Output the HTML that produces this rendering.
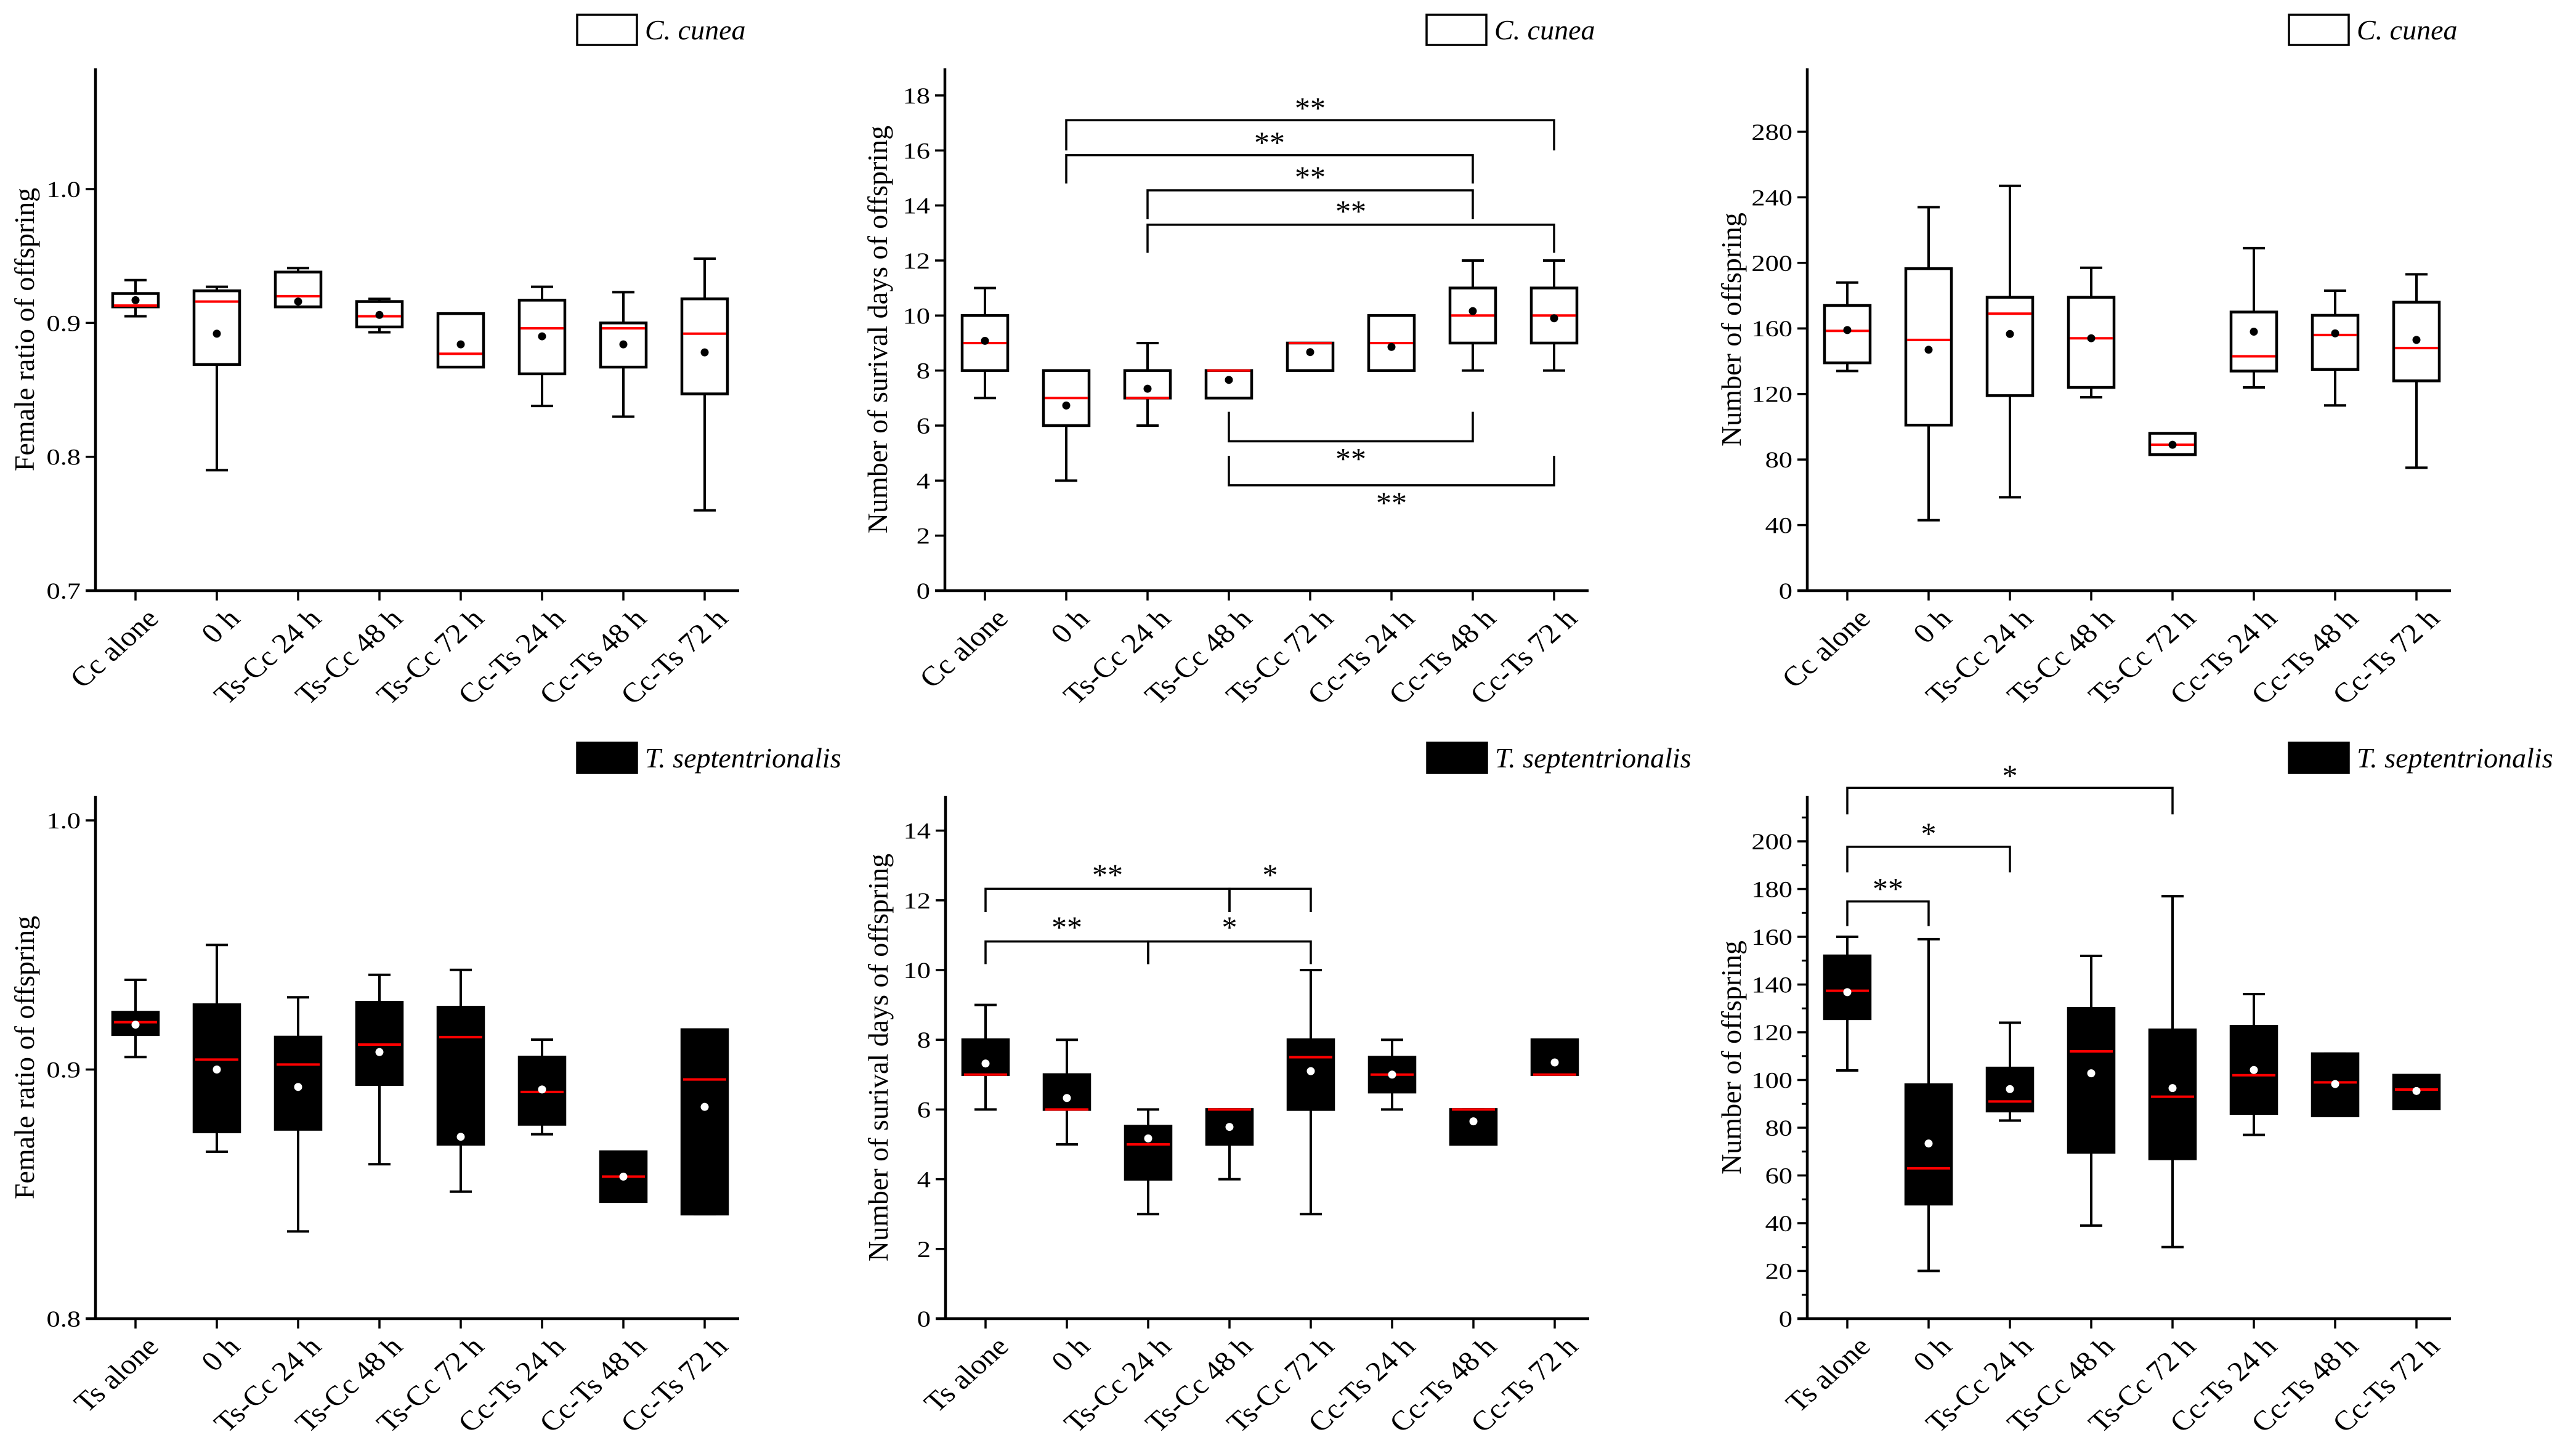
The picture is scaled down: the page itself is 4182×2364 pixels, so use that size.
<!DOCTYPE html>
<html><head><meta charset="utf-8"><title>Box plots</title>
<style>html,body{margin:0;padding:0;background:#fff}svg{display:block}text{font-family:"Liberation Serif","Times New Roman",serif;fill:#000}</style>
</head><body>
<svg id="fig" width="4182" height="2364" viewBox="0 0 4182 2364" xmlns="http://www.w3.org/2000/svg"></svg>
<script>
// ---------- data ----------
const catsTop = ["Cc alone","0 h","Ts-Cc 24 h","Ts-Cc 48 h","Ts-Cc 72 h","Cc-Ts 24 h","Cc-Ts 48 h","Cc-Ts 72 h"];
const catsBot = ["Ts alone","0 h","Ts-Cc 24 h","Ts-Cc 48 h","Ts-Cc 72 h","Cc-Ts 24 h","Cc-Ts 48 h","Cc-Ts 72 h"];

// Panel A: C. cunea female ratio
const aWhiskHi = [0.932,0.927,0.941,0.918,0.907,0.927,0.923,0.948];
const aQ3      = [0.922,0.924,0.938,0.916,0.907,0.917,0.900,0.918];
const aMedian  = [0.913,0.916,0.920,0.905,0.877,0.896,0.896,0.892];
const aQ1      = [0.912,0.869,0.912,0.897,0.867,0.862,0.867,0.847];
const aWhiskLo = [0.905,0.790,0.912,0.893,0.867,0.838,0.830,0.760];
const aMean    = [0.917,0.892,0.916,0.906,0.884,0.890,0.884,0.878];
const aTicks   = [0.7,0.8,0.9,1.0];
const aTickLabels = ["0.7","0.8","0.9","1.0"];

// Panel B: C. cunea survival days
const bWhiskHi = [11,8,9,8,9,10,12,12];
const bQ3      = [10,8,8,8,9,10,11,11];
const bMedian  = [9,7,7,8,9,9,10,10];
const bQ1      = [8,6,7,7,8,8,9,9];
const bWhiskLo = [7,4,6,7,8,8,8,8];
const bMean    = [9.08,6.73,7.34,7.66,8.67,8.86,10.16,9.9];
const bTicks   = [0,2,4,6,8,10,12,14,16,18];
const bTickLabels = ["0","2","4","6","8","10","12","14","16","18"];
const bSigFrom  = [1,1,2,2,3,3];
const bSigTo    = [7,6,6,7,6,7];
const bSigBar   = [17.1,15.83,14.55,13.3,5.43,3.83];
const bSigLeg   = [16.0,14.8,13.5,12.28,6.5,4.9];
const bSigText  = ["**","**","**","**","**","**"];
const bSigTextY = [17.75,16.5,15.25,14.0,5.0,3.4];

// Panel C: C. cunea number of offspring
const cWhiskHi = [188,234,247,197,96,209,183,193];
const cQ3      = [174,196.5,179,179,96,170,168,176];
const cMedian  = [158.5,153,169,154,89,143,156,148];
const cQ1      = [139,101,119,124,83,134,135,128];
const cWhiskLo = [134,43,57,118,83,124,113,75];
const cMean    = [159,147,156.6,154,89,158,157,153];
const cTicks   = [0,40,80,120,160,200,240,280];
const cTickLabels = ["0","40","80","120","160","200","240","280"];

// Panel D: T. septentrionalis female ratio
const dWhiskHi = [0.936,0.950,0.929,0.938,0.940,0.912,0.867,0.916];
const dQ3      = [0.923,0.926,0.913,0.927,0.925,0.905,0.867,0.916];
const dMedian  = [0.919,0.904,0.902,0.910,0.913,0.891,0.857,0.896];
const dQ1      = [0.914,0.875,0.876,0.894,0.870,0.878,0.847,0.842];
const dWhiskLo = [0.905,0.867,0.835,0.862,0.851,0.874,0.847,0.842];
const dMean    = [0.918,0.900,0.893,0.907,0.873,0.892,0.857,0.885];
const dTicks   = [0.8,0.9,1.0];
const dTickLabels = ["0.8","0.9","1.0"];

// Panel E: T. septentrionalis survival days
const eWhiskHi = [9,8,6,6,10,8,6,8];
const eQ3      = [8,7,5.52,6,8,7.5,6,8];
const eMedian  = [7,6,5,6,7.5,7,6,7];
const eQ1      = [7,6,4,5,6,6.5,5,7];
const eWhiskLo = [6,5,3,4,3,6,5,7];
const eMean    = [7.32,6.33,5.17,5.5,7.1,7.0,5.66,7.35];
const eTicks   = [0,2,4,6,8,10,12,14];
const eTickLabels = ["0","2","4","6","8","10","12","14"];
const eSigFrom  = [0,3,0,2];
const eSigTo    = [3,4,2,4];
const eSigBar   = [12.33,12.33,10.82,10.82];
const eSigLeg   = [11.66,11.66,10.17,10.17];
const eSigText  = ["**","*","**","*"];
const eSigTextY = [12.9,12.9,11.4,11.4];

// Panel F: T. septentrionalis number of offspring
const fWhiskHi = [160,159,124,152,177,136,111,102];
const fQ3      = [152,98,105,130,121,122.5,111,102];
const fMedian  = [137.4,63,91,112,93,102,99,96];
const fQ1      = [125.7,48,87,69.7,67,86,85,88];
const fWhiskLo = [104,20,83,39,30,77,85,88];
const fMean    = [136.8,73.4,96.2,102.8,96.6,104.2,98.3,95.4];
const fTicks   = [0,20,40,60,80,100,120,140,160,180,200];
const fTickLabels = ["0","20","40","60","80","100","120","140","160","180","200"];
const fMinor   = [10,30,50,70,90,110,130,150,170,190,210];
const fSigFrom  = [0,0,0];
const fSigTo    = [4,2,1];
const fSigBar   = [222.4,197.7,174.8];
const fSigLeg   = [211.3,187,164.5];
const fSigText  = ["*","*","**"];
const fSigTextY = [230,205.7,182.6];

// ---------- drawing ----------
const NS = "http://www.w3.org/2000/svg";
const svg = document.getElementById("fig");
function el(tag, parent){ const e=document.createElementNS(NS,tag); parent.appendChild(e); return e; }
function set(e,k,v){ e.setAttribute(k,v); }

function panel(p){
  const g = el("g", svg);
  
  
  const ax = p.ax, base = p.base, top = p.top;
  const y = v => base - (v - p.min) * p.ppu;
  const x = i => ax + 65 + i * 132;
  const ya = el("line", g); set(ya,"x1",ax); set(ya,"x2",ax); set(ya,"y1",top); set(ya,"y2",base+2);
  set(ya,"stroke","#000"); set(ya,"stroke-width",4.5);
  
  
  const xa = el("line", g); set(xa,"x1",ax-16); set(xa,"x2",ax+1045); set(xa,"y1",base); set(xa,"y2",base);
  set(xa,"stroke","#000"); set(xa,"stroke-width",4.5);
  
  
  p.ticks.forEach((t,i)=>{
    const yy = y(t);
    const tk = el("line", g); set(tk,"x1",ax-16); set(tk,"x2",ax); set(tk,"y1",yy); set(tk,"y2",yy);
    set(tk,"stroke","#000"); set(tk,"stroke-width",3.5);
    
    
    const tl = el("text", g); tl.textContent = p.tickLabels[i];
    set(tl,"text-anchor","end"); set(tl,"font-size",37);
    set(tl,"transform",`translate(${ax-24},${yy+13}) scale(1.2,1)`);
    
    
  });
  (p.minor||[]).forEach(t=>{
    const yy=y(t);
    const tk = el("line", g); set(tk,"x1",ax-9); set(tk,"x2",ax); set(tk,"y1",yy); set(tk,"y2",yy);
    set(tk,"stroke","#000"); set(tk,"stroke-width",3);
    
    
  });
  const yt = el("text", g); yt.textContent = p.ytitle;
  set(yt,"text-anchor","middle"); set(yt,"font-size",p.titleSize);
  set(yt,"transform",`translate(${ax-p.titleOff},${p.titleY}) rotate(-90)`);
  
  
  p.cats.forEach((c,i)=>{
    const xx = x(i);
    const tk = el("line", g); set(tk,"x1",xx); set(tk,"x2",xx); set(tk,"y1",base); set(tk,"y2",base+16);
    set(tk,"stroke","#000"); set(tk,"stroke-width",3.5);
    
    
    const tl = el("text", g); tl.textContent = c;
    set(tl,"text-anchor","end"); set(tl,"font-size",45);
    set(tl,"transform",`translate(${xx+40},${base+48}) scale(1.12,1) rotate(-45)`);
    
    
  });
  const fill = p.dark ? "#000" : "#fff";
  const dot = p.dark ? "#fff" : "#000";
  p.cats.forEach((c,i)=>{
    const xx = x(i);
    const bg = el("g", g);
    
    
    const w1 = el("line", bg); set(w1,"x1",xx); set(w1,"x2",xx); set(w1,"y1",y(p.hi[i])); set(w1,"y2",y(p.lo[i]));
    set(w1,"stroke","#000"); set(w1,"stroke-width",4);
    
    
    [p.hi[i], p.lo[i]].forEach(v=>{
      const cp = el("line", bg); set(cp,"x1",xx-18); set(cp,"x2",xx+18); set(cp,"y1",y(v)); set(cp,"y2",y(v));
      set(cp,"stroke","#000"); set(cp,"stroke-width",4);
      
      
    });
    const r = el("rect", bg);
    const yt3 = y(p.q3[i]), yb1 = y(p.q1[i]);
    set(r,"x",xx-37); set(r,"y",yt3); set(r,"width",74); set(r,"height",Math.max(1,yb1-yt3));
    set(r,"fill",fill); set(r,"stroke","#000"); set(r,"stroke-width",4.5);
    
    
    const md = el("line", bg); set(md,"x1",xx-35); set(md,"x2",xx+35); set(md,"y1",y(p.med[i])); set(md,"y2",y(p.med[i]));
    set(md,"stroke","#ff0000"); set(md,"stroke-width",4);
    
    
    const mn = el("circle", bg); set(mn,"cx",xx); set(mn,"cy",y(p.mean[i])); set(mn,"r",6.5); set(mn,"fill",dot);
    
    
  });
  (p.sigFrom||[]).forEach((a,k)=>{
    const b = p.sigTo[k];
    const yb = y(p.sigBar[k]), yl = y(p.sigLeg[k]);
    const pl = el("polyline", g);
    set(pl,"points",`${x(a)},${yl} ${x(a)},${yb} ${x(b)},${yb} ${x(b)},${yl}`);
    set(pl,"fill","none"); set(pl,"stroke","#000"); set(pl,"stroke-width",3.5);
    
    
    const st = el("text", g); st.textContent = p.sigText[k];
    set(st,"text-anchor","middle"); set(st,"font-size",50);
    set(st,"x",(x(a)+x(b))/2); set(st,"y",y(p.sigTextY[k])+26);
    
    
  });
  const lg = el("g", g);
  
  
  const lb = el("rect", lg); set(lb,"x",ax+782); set(lb,"y",p.legY); set(lb,"width",97); set(lb,"height",49);
  set(lb,"fill",fill); set(lb,"stroke","#000"); set(lb,"stroke-width",3.5);
  
  
  const lt = el("text", lg); lt.textContent = p.legend;
  set(lt,"x",ax+892); set(lt,"y",p.legY+40); set(lt,"font-size",46); set(lt,"font-style","italic");
  
  
}

panel({name:"panel-cc-female-ratio", ax:155, base:959, top:111, min:0.7, ppu:2173.3, ticks:aTicks, tickLabels:aTickLabels,
  cats:catsTop, hi:aWhiskHi, q3:aQ3, med:aMedian, q1:aQ1, lo:aWhiskLo, mean:aMean, dark:false,
  ytitle:"Female ratio of offspring", titleOff:100, titleSize:46, titleY:535, legend:"C. cunea", legY:24});
panel({name:"panel-cc-survival-days", ax:1534, base:959, top:111, min:0, ppu:44.67, ticks:bTicks, tickLabels:bTickLabels,
  cats:catsTop, hi:bWhiskHi, q3:bQ3, med:bMedian, q1:bQ1, lo:bWhiskLo, mean:bMean, dark:false,
  sigFrom:bSigFrom, sigTo:bSigTo, sigBar:bSigBar, sigLeg:bSigLeg, sigText:bSigText, sigTextY:bSigTextY,
  ytitle:"Number of surival days of offspring", titleOff:94, titleSize:46, titleY:535, legend:"C. cunea", legY:24});
panel({name:"panel-cc-offspring-number", ax:2934, base:959, top:111, min:0, ppu:2.661, ticks:cTicks, tickLabels:cTickLabels,
  cats:catsTop, hi:cWhiskHi, q3:cQ3, med:cMedian, q1:cQ1, lo:cWhiskLo, mean:cMean, dark:false,
  ytitle:"Number of offspring", titleOff:108, titleSize:46, titleY:535, legend:"C. cunea", legY:24});
panel({name:"panel-ts-female-ratio", ax:155, base:2141, top:1292, min:0.8, ppu:4045, ticks:dTicks, tickLabels:dTickLabels,
  cats:catsBot, hi:dWhiskHi, q3:dQ3, med:dMedian, q1:dQ1, lo:dWhiskLo, mean:dMean, dark:true,
  ytitle:"Female ratio of offspring", titleOff:100, titleSize:46, titleY:1717, legend:"T. septentrionalis", legY:1206});
panel({name:"panel-ts-survival-days", ax:1535, base:2141, top:1292, min:0, ppu:56.6, ticks:eTicks, tickLabels:eTickLabels,
  cats:catsBot, hi:eWhiskHi, q3:eQ3, med:eMedian, q1:eQ1, lo:eWhiskLo, mean:eMean, dark:true,
  sigFrom:eSigFrom, sigTo:eSigTo, sigBar:eSigBar, sigLeg:eSigLeg, sigText:eSigText, sigTextY:eSigTextY,
  ytitle:"Number of surival days of offspring", titleOff:94, titleSize:46, titleY:1717, legend:"T. septentrionalis", legY:1206});
panel({name:"panel-ts-offspring-number", ax:2934, base:2141, top:1292, min:0, ppu:3.875, ticks:fTicks, tickLabels:fTickLabels, minor:fMinor,
  cats:catsBot, hi:fWhiskHi, q3:fQ3, med:fMedian, q1:fQ1, lo:fWhiskLo, mean:fMean, dark:true,
  sigFrom:fSigFrom, sigTo:fSigTo, sigBar:fSigBar, sigLeg:fSigLeg, sigText:fSigText, sigTextY:fSigTextY,
  ytitle:"Number of offspring", titleOff:108, titleSize:46, titleY:1717, legend:"T. septentrionalis", legY:1206});
</script>
</body></html>
